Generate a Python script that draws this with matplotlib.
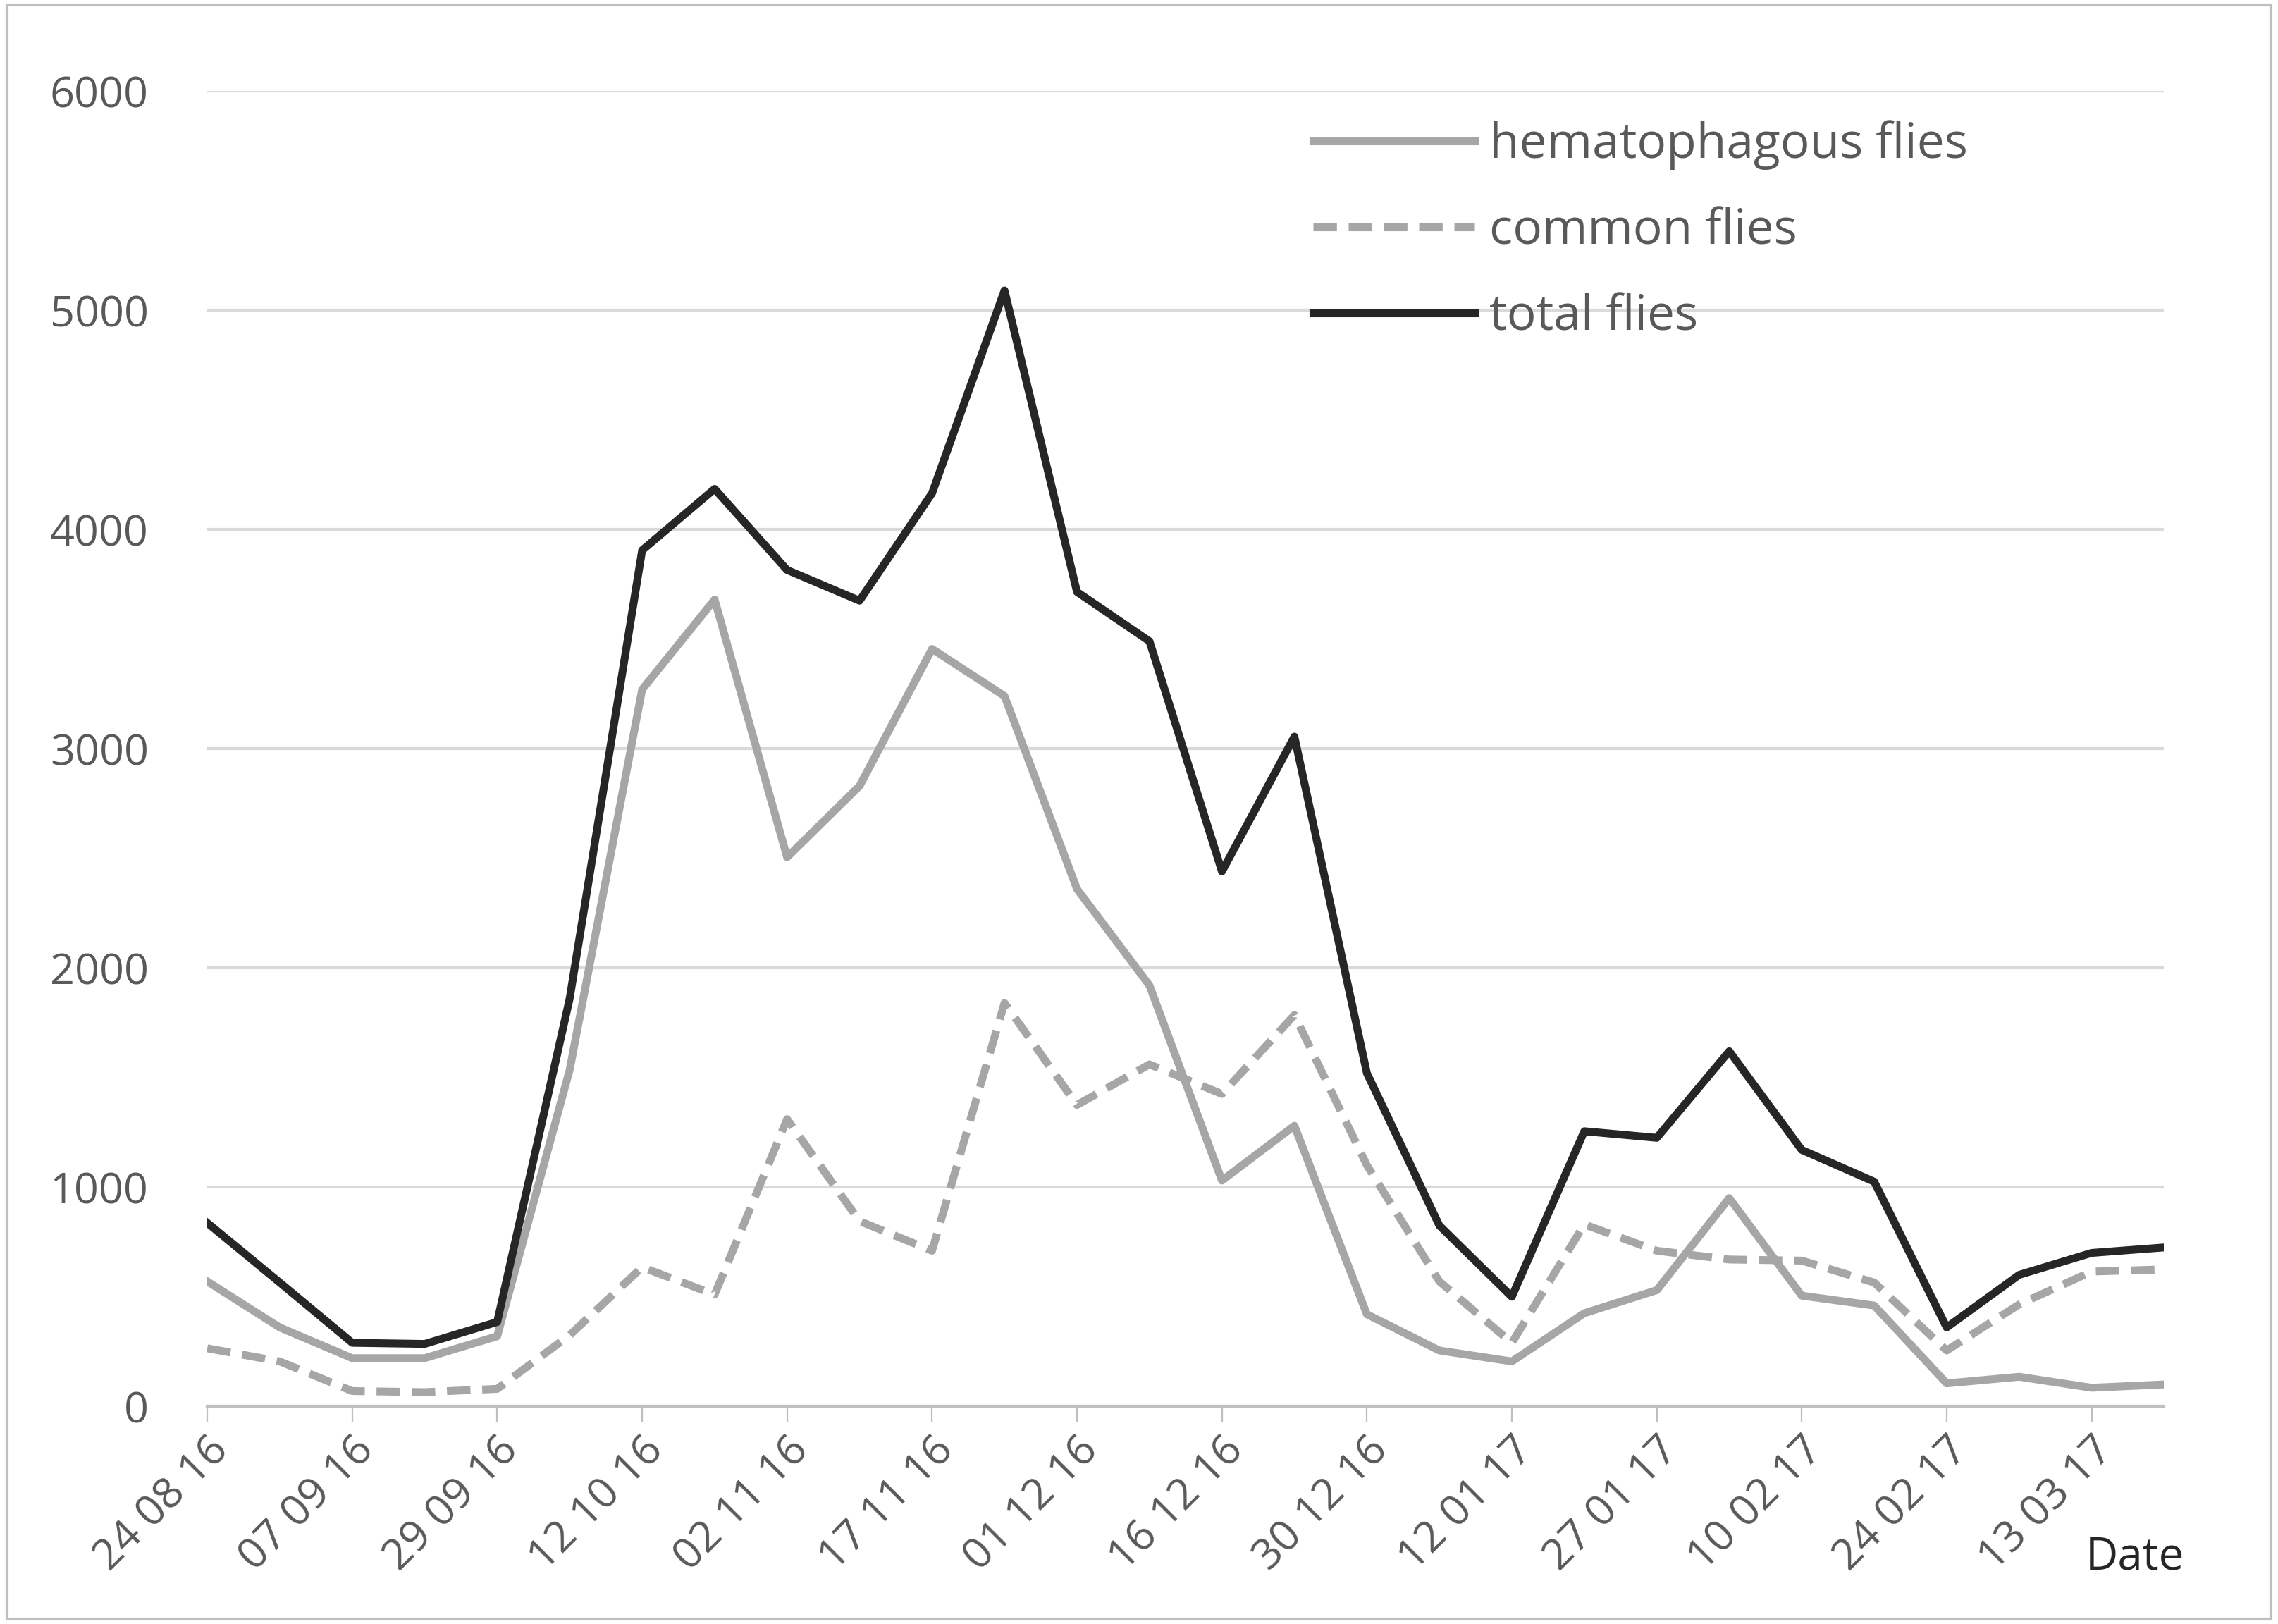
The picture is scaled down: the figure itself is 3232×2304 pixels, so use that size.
import numpy as np
import matplotlib.pyplot as plt

plt.rcParams["font.family"] = ["Open Sans", "DejaVu Sans"]

# Data
tick_labels = ["24 08 16", "07 09 16", "29 09 16", "12 10 16", "02 11 16", "17 11 16", "01 12 16",
               "16 12 16", "30 12 16", "12 01 17", "27 01 17", "10 02 17", "24 02 17", "13 03 17"]
hemato = [570, 360, 220, 220, 320, 1535, 3270, 3680, 2505, 2830, 3455, 3240, 2360, 1920,
          1030, 1280, 420, 255, 205, 425, 530, 950, 505, 460, 105, 135, 85, 100]
common = [265, 205, 70, 65, 80, 325, 635, 510, 1310, 845, 710, 1840, 1375, 1560,
          1425, 1785, 1100, 570, 290, 830, 710, 670, 665, 565, 255, 465, 615, 625]
total = [837, 565, 290, 285, 385, 1860, 3905, 4185, 3815, 3675, 4165, 5090, 3715, 3490,
         2440, 3055, 1520, 825, 500, 1255, 1225, 1620, 1170, 1025, 360, 600, 700, 725]

x = np.arange(len(total))

fig = plt.figure(figsize=(16.16, 11.52), dpi=200)
ax = fig.add_axes([0.091, 0.134, 0.859, 0.810])

ax.plot(x, hemato, color="#a6a6a6", lw=4, label="hematophagous flies")
ax.plot(x, common, color="#a6a6a6", lw=4, ls=(0, (3, 1.5)), label="common flies")
ax.plot(x, total, color="#262626", lw=4, label="total flies")

ax.set_xlim(0, len(total) - 1)
ax.set_ylim(0, 6000)
ax.set_yticks(range(0, 6001, 1000))
ax.grid(axis="y", color="#d9d9d9", lw=1.5)
ax.set_axisbelow(True)
for s in ["top", "right", "left"]:
    ax.spines[s].set_visible(False)
ax.spines["bottom"].set_color("#bfbfbf")
ax.spines["bottom"].set_linewidth(1.5)

ax.set_xticks(x[::2])
ax.set_xticklabels(tick_labels, rotation=45, ha="right", rotation_mode="anchor")
ax.tick_params(axis="x", length=8, color="#bfbfbf", labelsize=22, labelcolor="#595959")
ax.tick_params(axis="y", length=0, labelsize=22, labelcolor="#595959", pad=30)

ax.text(0.985, -0.115, "Date", transform=ax.transAxes, ha="center", va="center",
        fontsize=23, color="#262626")

leg = ax.legend(loc="upper left", bbox_to_anchor=(0.55, 1.0), frameon=False, fontsize=25,
                handlelength=3.3, labelspacing=0.75, handletextpad=0.3, borderaxespad=0.2)
for t in leg.get_texts():
    t.set_color("#595959")

fig.patches.append(plt.Rectangle((0.003, 0.003), 0.994, 0.994, transform=fig.transFigure,
                                 fill=False, edgecolor="#bfbfbf", lw=1.5))

fig.savefig("out.png", dpi=200)
